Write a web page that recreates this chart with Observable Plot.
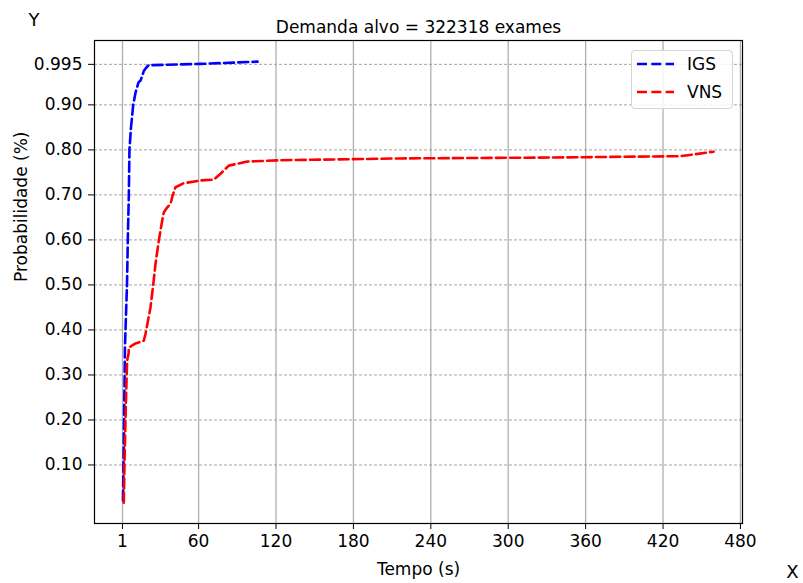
<!DOCTYPE html>
<html><head><meta charset="utf-8">
<script src="https://cdn.jsdelivr.net/npm/d3@7"></script>
<script src="https://cdn.jsdelivr.net/npm/@observablehq/plot@0.6"></script>
<style>
body{margin:0;background:#fff;font-family:"DejaVu Sans",sans-serif;}
#wrap{position:relative;width:803px;height:583px;}
.legend{position:absolute;left:631px;top:50px;width:102px;height:59px;box-sizing:border-box;border:1px solid #d4d4d4;border-radius:4px;background:rgba(255,255,255,0.85);font-family:"DejaVu Sans",sans-serif;font-size:17px;color:#000;}
.legend .row{position:absolute;left:5px;height:20px;display:flex;align-items:center;}
.legend .row span{margin-left:13px;}
</style></head><body><div id="wrap"></div>
<script>
const chartTitle = "Demanda alvo = 322318 exames";
const xLabel = "Tempo (s)";
const yLabel = "Probabilidade (%)";
const seriesNames = ["IGS", "VNS"];
const seriesColors = ["#0000ff", "#ff0000"];

const igsTime = [1.4, 1.8, 2.2, 2.6, 2.9, 3.7, 4.5, 5.1, 5.9, 6.4, 7.6, 9.3, 11.1, 13.4, 15.0, 17.5, 19.5, 21.2, 61.5, 105.7];
const igsProb = [0.021, 0.110, 0.198, 0.287, 0.361, 0.432, 0.501, 0.598, 0.698, 0.801, 0.850, 0.900, 0.927, 0.950, 0.954, 0.975, 0.983, 0.988, 0.991, 0.996];

const vnsTime = [2.0, 2.6, 3.3, 3.9, 4.6, 5.7, 5.9, 11.1, 17.5, 18.8, 22.7, 24.8, 26.6, 29.1, 31.8, 33.0, 35.6, 38.2, 39.8, 42.1, 48.5, 61.5, 71.8, 77.0, 83.4, 97.7, 123.5, 216.5, 332.8, 433.6, 459.2];
const vnsProb = [0.016, 0.110, 0.198, 0.265, 0.332, 0.347, 0.361, 0.370, 0.376, 0.391, 0.450, 0.500, 0.547, 0.598, 0.643, 0.661, 0.672, 0.680, 0.698, 0.717, 0.726, 0.732, 0.734, 0.747, 0.765, 0.774, 0.777, 0.781, 0.783, 0.786, 0.796];

const xTicks = [1, 60, 120, 180, 240, 300, 360, 420, 480];
const yTicks = [0.10, 0.20, 0.30, 0.40, 0.50, 0.60, 0.70, 0.80, 0.90, 0.99];
const yTickLabels = ["0.10", "0.20", "0.30", "0.40", "0.50", "0.60", "0.70", "0.80", "0.90", "0.995"];

const rows = [
  ...igsTime.map((t, i) => ({series: seriesNames[0], t, p: igsProb[i]})),
  ...vnsTime.map((t, i) => ({series: seriesNames[1], t, p: vnsProb[i]}))
];

const fs = 17;
const chart = Plot.plot({
  width: 803,
  height: 583,
  marginLeft: 94,
  marginRight: 61,
  marginTop: 40,
  marginBottom: 60,
  style: {fontFamily: "DejaVu Sans, sans-serif", fontSize: fs + "px", background: "#fff", color: "#000"},
  x: {domain: [-20.7, 481.6]},
  y: {domain: [-0.030, 1.043]},
  color: {domain: seriesNames, range: seriesColors},
  marks: [
    Plot.gridX(xTicks, {stroke: "#b0b0b0", strokeOpacity: 1, strokeWidth: 1.3}),
    Plot.gridY(yTicks, {stroke: "#9a9a9a", strokeOpacity: 1, strokeWidth: 0.9, strokeDasharray: "3,2"}),
    Plot.line(rows, {x: "t", y: "p", z: "series", stroke: "series", strokeWidth: 2.6, strokeDasharray: "10,4.3", curve: "linear"}),
    Plot.frame({stroke: "#000", strokeWidth: 1.2}),
    Plot.axisX(xTicks, {tickSize: 6, tickPadding: 5, label: null, fontSize: fs, tickFormat: d => String(d)}),
    Plot.axisY(yTicks, {tickSize: 6, tickPadding: 6, label: null, fontSize: fs, tickFormat: d => yTickLabels[yTicks.indexOf(d)]}),
    Plot.text([chartTitle], {text: d => d, frameAnchor: "top", dy: -20, fontSize: 17}),
    Plot.text([xLabel], {text: d => d, frameAnchor: "bottom", dy: 51, fontSize: fs}),
    Plot.text([yLabel], {text: d => d, frameAnchor: "left", dx: -73, rotate: -90, fontSize: fs}),
    Plot.text(["Y"], {text: d => d, frameAnchor: "top-left", dx: -66, dy: -27, fontSize: 18}),
    Plot.text(["X"], {text: d => d, frameAnchor: "bottom-right", dx: 56, dy: 54, fontSize: 18})
  ]
});
const wrap = document.getElementById("wrap");
wrap.appendChild(chart);

// legend
const leg = document.createElement("div");
leg.className = "legend";
seriesNames.forEach((name, i) => {
  const row = document.createElement("div");
  row.className = "row";
  row.style.top = (3 + i * 27.5) + "px";
  row.innerHTML = `<svg width="37" height="6"><line x1="0" y1="3" x2="37" y2="3" stroke="${seriesColors[i]}" stroke-width="2.6" stroke-dasharray="10,4.3"/></svg><span>${name}</span>`;
  leg.appendChild(row);
});
wrap.appendChild(leg);
</script>
</body></html>
